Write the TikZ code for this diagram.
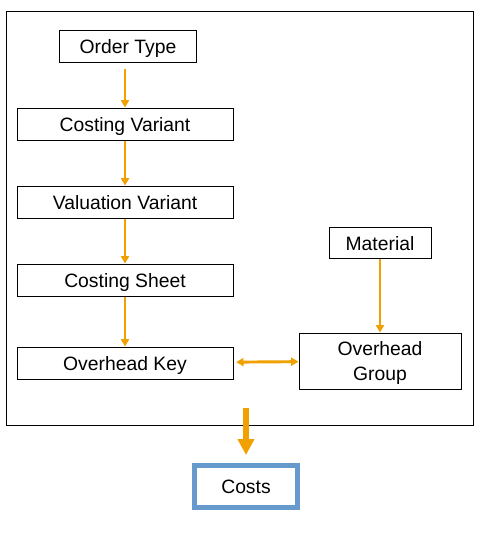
\documentclass[tikz,border=0pt]{standalone}
\usepackage{fontspec}
\setmainfont{Liberation Sans}
\usetikzlibrary{arrows.meta,positioning}
\definecolor{flow}{RGB}{240,160,0}
\definecolor{costblue}{RGB}{102,153,204}

\begin{document}
\begin{tikzpicture}[
  x=0.75pt, y=-0.75pt,
  font=\fontsize{14.5}{18.75}\selectfont,
  node distance=33.75pt,
  item/.style={draw, line width=0.75pt, minimum height=24pt,
               inner sep=0pt, text depth=0pt, align=center},
  wide/.style={item, minimum width=162pt},
  flowarrow/.style={-{Triangle[length=5.5pt,width=6pt]}, line width=2.2pt, flow},
  twoway/.style={{Triangle[length=5.5pt,width=6pt]}-{Triangle[length=5.5pt,width=6pt]},
                 line width=2.2pt, flow},
  bigarrow/.style={-{Triangle[length=12pt,width=12pt]}, line width=4.5pt, flow},
]
\useasboundingbox (0,0) rectangle (480,540);

\node[draw, line width=0.75pt, minimum width=350.25pt, minimum height=310.5pt] (frame) at (239.5,218) {};

\node[item, minimum width=102.75pt] (ordertype) at (128,46) {Order Type};
\node[wide, below=of ordertype, xshift=-2.25pt] (costvar) {Costing Variant};
\node[wide, below=of costvar] (valvar) {Valuation Variant};
\node[wide, below=of valvar] (costsheet) {Costing Sheet};
\node[wide, below=37.5pt of costsheet] (ohkey) {Overhead Key};
\node[item, minimum width=76.5pt, minimum height=23.25pt] (material) at (380,243) {Material};
\node[item, minimum width=121.5pt, minimum height=42pt] (ohgroup) at (380,361) {Overhead\\Group};
\node[draw=costblue, line width=3.75pt, minimum width=77.25pt, minimum height=31.5pt,
      text depth=0pt] (costs) at (246,486.5) {Costs};

\draw[flowarrow, shorten <=4.5pt] (costvar.north |- ordertype.south) -- (costvar.north);
\draw[flowarrow] (costvar) -- (valvar);
\draw[flowarrow] (valvar) -- (costsheet);
\draw[flowarrow] (costsheet) -- (ohkey);
\draw[flowarrow] (material) -- (ohgroup);
\draw[twoway, shorten <=2pt] (ohkey) -- (ohgroup);

\coordinate (out) at (246,408);
\draw[bigarrow, shorten >=6pt] (out) -- (costs);

\end{tikzpicture}
\end{document}
